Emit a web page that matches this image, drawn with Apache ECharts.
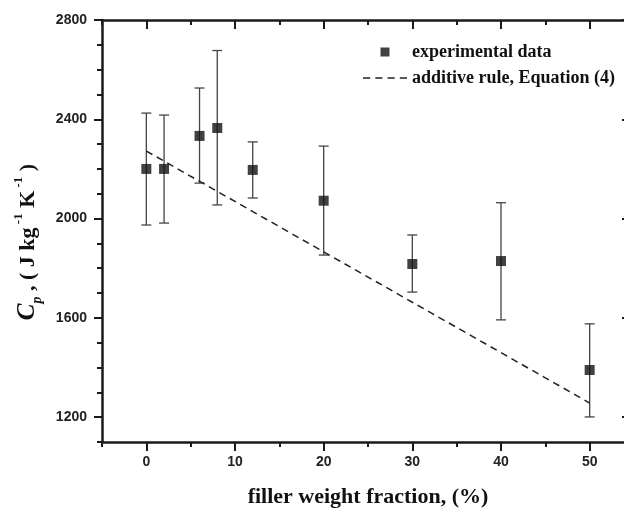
<!DOCTYPE html>
<html><head><meta charset="utf-8">
<script src="https://cdn.jsdelivr.net/npm/echarts@6/dist/echarts.min.js"></script>
<style>html,body{margin:0;padding:0;background:#fff}#c{width:624px;height:508px}</style>
</head><body><div id="c"></div>
<script>
// ---- data ----
const fractions = [0, 2, 6, 8, 12, 20, 30, 40, 50];
const cpMean    = [2200, 2200, 2333, 2365, 2196, 2072, 1817, 1829, 1390];
const cpUpper   = [2425, 2417, 2526, 2677, 2309, 2292, 1934, 2064, 1576];
const cpLower   = [1974, 1982, 2143, 2055, 2083, 1853, 1704, 1592, 1201];
const ruleX = [0, 50];
const ruleY = [2272, 1257];
const xMajorTicks = [0, 10, 20, 30, 40, 50];
const xMinorTicks = [-5, 5, 15, 25, 35, 45, 55];
const yMajorTicks = [1200, 1600, 2000, 2400, 2800];
const yMinorTicks = [1100, 1300, 1400, 1500, 1700, 1800, 1900, 2100, 2200, 2300, 2500, 2600, 2700];
const seriesNames = ['experimental data', 'additive rule, Equation (4)'];
const xTitle = 'filler weight fraction, (%)';

const X_MIN = -5, X_MAX = 55, Y_MIN = 1100, Y_MAX = 2800;
const AX = '#1a1a1a';
const labelFont = {fontFamily: 'Liberation Sans', fontWeight: 'bold', fontSize: 14, color: '#222'};
const plain = v => String(v);

function xAxisDef(pos, ticks, len, inside, line, labels) {
  return {
    type: 'value', position: pos, min: X_MIN, max: X_MAX, gridIndex: 0,
    axisLine: {show: line, onZero: false, lineStyle: {color: AX, width: 2.5}},
    axisTick: {show: true, inside: inside, length: len, customValues: ticks, lineStyle: {color: AX, width: 2}},
    axisLabel: labels ? Object.assign({show: true, margin: 13, customValues: xMajorTicks, formatter: plain}, labelFont) : {show: false},
    splitLine: {show: false}
  };
}
function yAxisDef(pos, ticks, len, inside, line, labels) {
  return {
    type: 'value', position: pos, min: Y_MIN, max: Y_MAX, gridIndex: 0,
    axisLine: {show: line, onZero: false, lineStyle: {color: AX, width: 2.5}},
    axisTick: {show: true, inside: inside, length: len, customValues: ticks, lineStyle: {color: AX, width: 2}},
    axisLabel: labels ? Object.assign({show: true, margin: 15, customValues: yMajorTicks, formatter: plain}, labelFont) : {show: false},
    splitLine: {show: false}
  };
}

const xAxes = [
  xAxisDef('bottom', xMajorTicks, 9, false, true, true),
  xAxisDef('bottom', xMinorTicks, 5, false, false, false),
  xAxisDef('top', xMajorTicks, 9, true, true, false),
  xAxisDef('top', xMinorTicks, 5, true, false, false)
];
xAxes[0].name = xTitle;
xAxes[0].nameLocation = 'middle';
xAxes[0].nameGap = 44;
xAxes[0].nameTextStyle = {fontFamily: 'Liberation Serif', fontWeight: 'bold', fontSize: 22, color: '#111'};

const yAxes = [
  yAxisDef('left', yMajorTicks, 8, false, true, true),
  yAxisDef('left', yMinorTicks, 5, false, false, false),
  yAxisDef('right', yMajorTicks, 12, true, true, false),
  yAxisDef('right', yMinorTicks, 5, true, false, false)
];
yAxes[0].name = '{i|C}{sb|p}{b| , ( J kg}{sp| -1}{b| K}{sp| -1}{b| )}';
yAxes[0].nameLocation = 'middle';
yAxes[0].nameGap = 58;
yAxes[0].nameTextStyle = {
  fontFamily: 'Liberation Serif', fontWeight: 'bold', fontSize: 22, color: '#111',
  padding: [0, 22, 0, 0],
  rich: {
    i:  {fontFamily: 'Liberation Serif', fontWeight: 'bold', fontStyle: 'italic', fontSize: 25, lineHeight: 32, color: '#111'},
    sb: {fontFamily: 'Liberation Serif', fontWeight: 'bold', fontStyle: 'italic', fontSize: 14, verticalAlign: 'bottom', color: '#111'},
    b:  {fontFamily: 'Liberation Serif', fontWeight: 'bold', fontSize: 22, lineHeight: 32, color: '#111'},
    sp: {fontFamily: 'Liberation Serif', fontWeight: 'bold', fontSize: 13, verticalAlign: 'top', color: '#111'}
  }
};

const errData = fractions.map((f, i) => [f, cpLower[i], cpUpper[i]]);
const ptData = fractions.map((f, i) => [f, cpMean[i]]);
const lineData = ruleX.map((x, i) => [x, ruleY[i]]);

const chart = echarts.init(document.getElementById('c'), null, {renderer: 'canvas'});
chart.setOption({
  animation: false,
  backgroundColor: '#ffffff',
  grid: {left: 102, right: -10, top: 20, bottom: 66, containLabel: false, outerBoundsMode: 'none'},
  xAxis: xAxes,
  yAxis: yAxes,
  legend: {
    orient: 'vertical', left: 363, top: 43, padding: 0,
    itemWidth: 44, itemHeight: 9, itemGap: 8,
    textStyle: {fontFamily: 'Liberation Serif', fontWeight: 'bold', fontSize: 18, color: '#111'},
    data: [
      {name: seriesNames[0], icon: 'path://M0,0H10V10H0Z'},
      {name: seriesNames[1], icon: 'path://M0,0H7V1.6H0ZM12,0H19V1.6H12ZM24,0H31V1.6H24ZM36,0H43V1.6H36Z'}
    ]
  },
  series: [
    {
      type: 'custom', name: 'err', xAxisIndex: 0, yAxisIndex: 0,
      data: errData, encode: {x: 0, y: [1, 2]}, z: 2,
      renderItem: function (params, api) {
        const x = api.value(0);
        const pLo = api.coord([x, api.value(1)]);
        const pHi = api.coord([x, api.value(2)]);
        const w = 5;
        const st = {stroke: '#444', lineWidth: 1.3};
        return {type: 'group', children: [
          {type: 'line', shape: {x1: pHi[0], y1: pHi[1], x2: pLo[0], y2: pLo[1]}, style: st},
          {type: 'line', shape: {x1: pHi[0] - w, y1: pHi[1], x2: pHi[0] + w, y2: pHi[1]}, style: st},
          {type: 'line', shape: {x1: pLo[0] - w, y1: pLo[1], x2: pLo[0] + w, y2: pLo[1]}, style: st}
        ]};
      }
    },
    {
      type: 'line', name: seriesNames[1], xAxisIndex: 0, yAxisIndex: 0,
      data: lineData, symbol: 'none', z: 3,
      lineStyle: {color: '#222', width: 1.5, type: [7, 5]},
      itemStyle: {color: '#222'}
    },
    {
      type: 'scatter', name: seriesNames[0], xAxisIndex: 0, yAxisIndex: 0,
      data: ptData, symbol: 'rect', symbolSize: 10, z: 4,
      itemStyle: {color: '#111'}
    }
  ]
});
</script>
</body></html>
